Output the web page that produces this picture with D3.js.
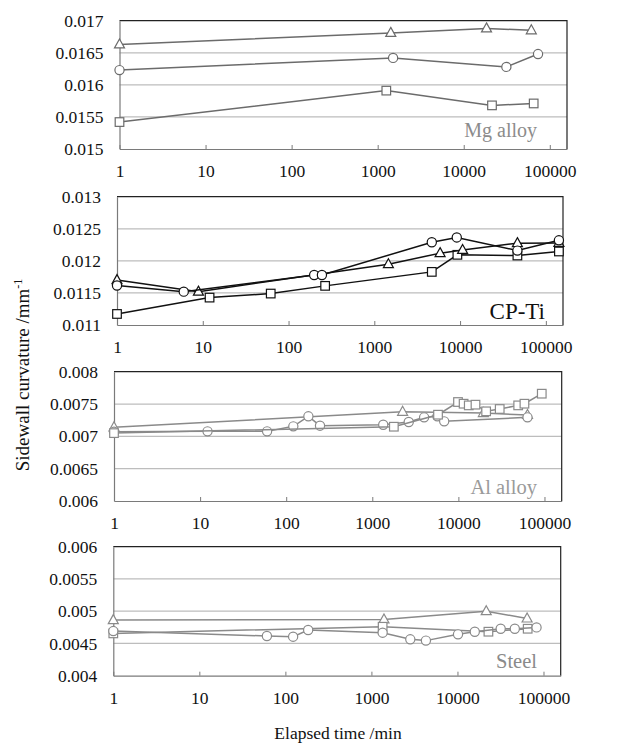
<!DOCTYPE html>
<html>
<head>
<meta charset="utf-8">
<script src="https://cdn.jsdelivr.net/npm/d3@7/dist/d3.min.js"></script>
<style>
  html, body { margin: 0; padding: 0; background: #fff; }
  svg { display: block; }
  svg text { font-family: "Liberation Serif", "Times New Roman", serif !important; }
</style>
</head>
<body>
<svg id="chart" width="627" height="745"></svg>
<script>
// ---------------- DATA ----------------
const timeTicks = [1, 10, 100, 1000, 10000, 100000];
const timeTickLabels = ["1", "10", "100", "1000", "10000", "100000"];

// Mg alloy
const mgYTicks = [0.015, 0.0155, 0.016, 0.0165, 0.017];
const mgYTickLabels = ["0.015", "0.0155", "0.016", "0.0165", "0.017"];
const mgTriT = [1, 1420, 18400, 61000];
const mgTriV = [0.01663, 0.01681, 0.01688, 0.01685];
const mgCirT = [1, 1510, 31300, 73000];
const mgCirV = [0.01623, 0.01642, 0.01628, 0.01648];
const mgSqT = [1, 1260, 21300, 65000];
const mgSqV = [0.01542, 0.01591, 0.01568, 0.01571];

// CP-Ti
const tiYTicks = [0.011, 0.0115, 0.012, 0.0125, 0.013];
const tiYTickLabels = ["0.011", "0.0115", "0.012", "0.0125", "0.013"];
const tiCirT = [1, 6, 199, 245, 4680, 9150, 46600, 142000];
const tiCirV = [0.011615, 0.01152, 0.01178, 0.01178, 0.01229, 0.012365, 0.01216, 0.01232];
const tiTriT = [1, 8.9, 1460, 5850, 10700, 46600, 142000];
const tiTriV = [0.0117, 0.01152, 0.011948, 0.01212, 0.01217, 0.012276, 0.01228];
const tiSqT = [1, 12, 62, 267, 4680, 9300, 46600, 142000];
const tiSqV = [0.011172, 0.011427, 0.01149, 0.01161, 0.011828, 0.012094, 0.012083, 0.012146];

// Al alloy
const alYTicks = [0.006, 0.0065, 0.007, 0.0075, 0.008];
const alYTickLabels = ["0.006", "0.0065", "0.007", "0.0075", "0.008"];
const alTriT = [1, 2250, 19500, 63500];
const alTriV = [0.00714, 0.00738, 0.00736, 0.00733];
const alCirT = [1, 12.2, 60, 121, 181, 247, 1340, 2650, 4000, 5700, 6840, 63500];
const alCirV = [0.00707, 0.007077, 0.007077, 0.007155, 0.00731, 0.007165, 0.00718, 0.007222, 0.007294, 0.007309, 0.007232, 0.007294];
const alSqT = [1, 1780, 5800, 9900, 11500, 13200, 15800, 21000, 30200, 49500, 58500, 93000];
const alSqV = [0.00705, 0.007149, 0.007335, 0.007531, 0.007505, 0.007479, 0.00749, 0.007387, 0.007423, 0.007479, 0.007505, 0.00766];

// Steel
const stYTicks = [0.004, 0.0045, 0.005, 0.0055, 0.006];
const stYTickLabels = ["0.004", "0.0045", "0.005", "0.0055", "0.006"];
const stTriT = [1, 1400, 21600, 64500];
const stTriV = [0.004862, 0.004872, 0.005, 0.004887];
const stCirT = [1, 61, 123, 184, 1350, 2830, 4300, 10150, 15900, 31800, 46400, 83000];
const stCirV = [0.004692, 0.004615, 0.004605, 0.004708, 0.004667, 0.004564, 0.004544, 0.004641, 0.004682, 0.004728, 0.004728, 0.004749];
const stSqT = [1, 1350, 22900, 65500];
const stSqV = [0.004656, 0.004759, 0.004682, 0.004728];

const xMax = Math.pow(10, 5.2);

// ---------------- LAYOUT / STYLE ----------------
const panels = [
  { left: 119.5, right: 567, top: 20.7, bottom: 149, yTicks: mgYTicks, yLabels: mgYTickLabels,
    series: [[mgTriT, mgTriV, "tri"], [mgCirT, mgCirV, "cir"], [mgSqT, mgSqV, "sq"]],
    color: "#6b6b6b", label: "Mg alloy", labelColor: "#8c8c8c", labelSize: 20, labelX: 537, labelY: 137 },
  { left: 117, right: 563, top: 196.7, bottom: 325, yTicks: tiYTicks, yLabels: tiYTickLabels,
    series: [[tiSqT, tiSqV, "sq"], [tiTriT, tiTriV, "tri"], [tiCirT, tiCirV, "cir"]],
    color: "#111", label: "CP-Ti", labelColor: "#111", labelSize: 23, labelX: 545, labelY: 319 },
  { left: 114, right: 561.7, top: 371.7, bottom: 501, yTicks: alYTicks, yLabels: alYTickLabels,
    series: [[alTriT, alTriV, "tri"], [alCirT, alCirV, "cir"], [alSqT, alSqV, "sq"]],
    color: "#8a8a8a", label: "Al alloy", labelColor: "#9a9a9a", labelSize: 20.5, labelX: 537, labelY: 494 },
  { left: 113.3, right: 560.7, top: 546.7, bottom: 675.7, yTicks: stYTicks, yLabels: stYTickLabels,
    series: [[stTriT, stTriV, "tri"], [stSqT, stSqV, "sq"], [stCirT, stCirV, "cir"]],
    color: "#8a8a8a", label: "Steel", labelColor: "#8a8a8a", labelSize: 20.5, labelX: 537, labelY: 668 }
];

const svg = d3.select("#chart");
const tickFont = 17.5;

panels.forEach(p => {
  const x = d3.scaleLog().domain([1, xMax]).range([p.left, p.right]);
  const y = d3.scaleLinear().domain([p.yTicks[0], p.yTicks[p.yTicks.length - 1]]).range([p.bottom, p.top]);
  const g = svg.append("g");

  // grid
  g.selectAll("line.grid").data(p.yTicks.slice(1, -1)).enter().append("line")
    .attr("x1", p.left).attr("x2", p.right)
    .attr("y1", d => y(d)).attr("y2", d => y(d))
    .attr("stroke", "#bdbdbd").attr("stroke-width", 1.2);

  // top & right border
  g.append("path")
    .attr("d", `M${p.left},${y.range()[1]}H${p.right}V${p.bottom}`)
    .attr("fill", "none").attr("stroke", "#222").attr("stroke-width", 1.2);

  // x axis
  const xa = g.append("g").attr("transform", `translate(0,${p.bottom})`)
    .call(d3.axisBottom(x).tickValues(timeTicks).tickFormat((d, i) => timeTickLabels[i])
      .tickSize(-4).tickSizeOuter(0).tickPadding(16));
  xa.attr("font-family", null).attr("font-size", null);
  xa.select(".domain").attr("stroke", "#7a7a7a").attr("stroke-width", 1.2);
  xa.selectAll(".tick line").attr("stroke", "#7a7a7a");
  xa.selectAll(".tick text").attr("font-size", tickFont).attr("fill", "#111");

  // y axis
  const ya = g.append("g").attr("transform", `translate(${p.left},0)`)
    .call(d3.axisLeft(y).tickValues(p.yTicks).tickFormat((d, i) => p.yLabels[i])
      .tickSize(0).tickSizeOuter(0).tickPadding(16));
  ya.attr("font-family", null).attr("font-size", null);
  ya.select(".domain").attr("stroke", "#7a7a7a").attr("stroke-width", 1.2);
  ya.selectAll(".tick text").attr("font-size", tickFont).attr("fill", "#111");

  // panel label
  g.append("text").attr("x", p.labelX).attr("y", p.labelY).attr("text-anchor", "end")
    .attr("font-size", p.labelSize).attr("fill", p.labelColor).text(p.label);

  // series
  const line = d3.line().x(d => x(d[0])).y(d => y(d[1]));
  p.series.forEach(([ts, vs, shape]) => {
    const pts = ts.map((t, i) => [t, vs[i]]);
    g.append("path").datum(pts).attr("d", line)
      .attr("fill", "none").attr("stroke", p.color).attr("stroke-width", 1.5);
    const mk = g.selectAll(null).data(pts).enter();
    if (shape === "cir") {
      mk.append("circle").attr("cx", d => x(d[0])).attr("cy", d => y(d[1])).attr("r", 4.6)
        .attr("fill", "#fff").attr("stroke", p.color).attr("stroke-width", 1.2);
    } else if (shape === "sq") {
      mk.append("rect").attr("x", d => x(d[0]) - 4.3).attr("y", d => y(d[1]) - 4.3)
        .attr("width", 8.6).attr("height", 8.6)
        .attr("fill", "#fff").attr("stroke", p.color).attr("stroke-width", 1.2);
    } else {
      mk.append("path").attr("d", d => {
        const cx = x(d[0]), cy = y(d[1]);
        return `M${cx},${cy - 5.5}L${cx + 5},${cy + 3.5}L${cx - 5},${cy + 3.5}Z`;
      }).attr("fill", "#fff").attr("stroke", p.color).attr("stroke-width", 1.2);
    }
  });
});

// axis titles
svg.append("text").attr("x", 338).attr("y", 739).attr("text-anchor", "middle")
  .attr("font-size", 17.5).attr("fill", "#111").text("Elapsed time /min");

const yl = svg.append("text").attr("transform", "translate(29,375) rotate(-90)")
  .attr("text-anchor", "middle").attr("font-size", 19).attr("fill", "#111");
yl.append("tspan").text("Sidewall curvature /mm");
yl.append("tspan").attr("font-size", 12).attr("dy", -7).text("-1");
</script>
</body>
</html>
